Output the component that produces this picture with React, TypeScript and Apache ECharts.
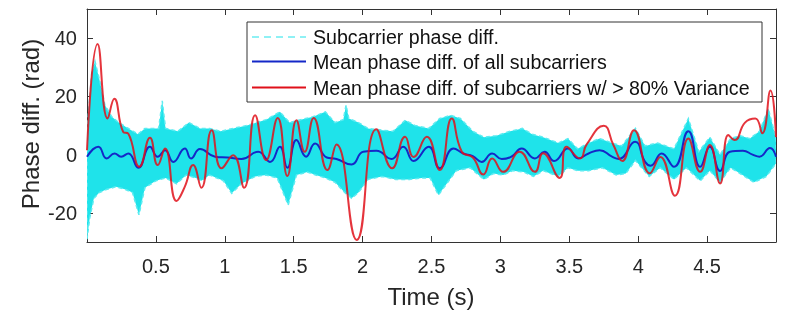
import React, { useEffect, useRef } from 'react';
import * as echarts from 'echarts';

const xTicks = [0.5, 1, 1.5, 2, 2.5, 3, 3.5, 4, 4.5];
const yTicks = [-20, 0, 20, 40];

const legendLabels = [
  'Subcarrier phase diff.',
  'Mean phase diff. of all subcarriers',
  'Mean phase diff. of subcarriers w/ > 80% Variance',
];

// Mean phase diff. of subcarriers w/ > 80% variance (red)
const redSeries: [number, number][] = [
  [0, 1.5], [0.077, 38], [0.15, 12.4], [0.198, 19.2], [0.263, 7.8], [0.3, 7.2], [0.38, -4.2],
  [0.457, 5.8], [0.513, -3.6], [0.566, 2.1], [0.65, -15.9], [0.71, -11], [0.77, -3.6], [0.83, -11.4],
  [0.905, 8.4], [0.977, -4.7], [1.06, -0.2], [1.14, -11.4], [1.22, 13.5], [1.3, -1.9], [1.384, 12.6],
  [1.454, -7.3], [1.52, 11.8], [1.58, 1], [1.645, 12.6], [1.745, -5.3], [1.81, 3.5], [1.957, -29.3],
  [2.1, 8.7], [2.215, -4.7], [2.308, 6.1], [2.37, -0.8], [2.466, 6.1], [2.56, -5.3], [2.647, 12.4],
  [2.72, 1], [2.8, -1], [2.876, -6.8], [2.94, -1.3], [3.02, -5.9], [3.14, 1], [3.25, -5.9], [3.31, 0.5],
  [3.43, -8], [3.48, 2.7], [3.578, -1.3], [3.626, 3.5], [3.75, 9.9], [3.82, 3.3], [3.885, -2.2],
  [3.97, 8.4], [4.085, -6.4], [4.16, -0.8], [4.267, -14.1], [4.364, 5.5], [4.45, -5.9], [4.52, 3.3],
  [4.594, -9.9], [4.654, 6.7], [4.7, 5], [4.775, 11], [4.85, 12.4], [4.9, 7.3], [4.96, 22], [5.0, 6],
];

// Mean phase diff. of all subcarriers (blue)
const blueSeries: [number, number][] = [
  [0, -0.7], [0.082, 2.7], [0.143, -1.3], [0.2, 0.4], [0.247, -0.7], [0.3, 0.4], [0.372, -4.5],
  [0.457, 2.7], [0.513, -0.7], [0.566, 1.5], [0.626, -2.5], [0.71, 2.1], [0.755, -1.3], [0.82, 1.9],
  [0.93, -0.7], [1.02, -1], [1.12, -1.5], [1.243, 1], [1.328, -2.5], [1.4, 2.7], [1.454, -4.5],
  [1.52, 5], [1.59, -0.7], [1.655, 3.8], [1.74, -1], [1.81, -1.5], [1.92, -3.4], [2.005, 1], [2.1, 1.3],
  [2.21, -1.5], [2.295, 2.7], [2.37, -2.2], [2.48, 2.7], [2.56, -4.7], [2.66, 2.1], [2.73, 0.4],
  [2.8, -0.5], [2.864, -2.5], [2.94, 0.4], [3.01, -1.5], [3.08, -0.7], [3.154, 2.1], [3.25, -1.3],
  [3.32, 1], [3.39, -2.2], [3.49, 2.1], [3.565, -1.3], [3.64, 0.4], [3.72, 1.5], [3.81, -0.7],
  [3.86, -1.5], [3.977, 4.4], [4.05, -2.5], [4.09, -3.8], [4.17, 0.4], [4.26, -4.2], [4.364, 8],
  [4.45, -4.2], [4.52, 2.7], [4.594, -5.6], [4.666, 1], [4.76, 1.3], [4.83, 0], [4.88, -0.7],
  [4.956, 2.3], [5.0, -0.7],
];

// Envelope of the individual subcarrier phase diff. traces (cyan)
const cyanUpper: [number, number][] = [
  [0, 8], [0.034, 28], [0.058, 32], [0.094, 25], [0.13, 17], [0.18, 13], [0.23, 11], [0.3, 9],
  [0.37, 7], [0.42, 9], [0.52, 9], [0.546, 18.5], [0.57, 9], [0.66, 8], [0.74, 11], [0.82, 9],
  [0.89, 9], [0.97, 8], [1.06, 9], [1.16, 10], [1.23, 11], [1.3, 12], [1.4, 14.7], [1.47, 11],
  [1.55, 12], [1.64, 13], [1.73, 14.7], [1.8, 11], [1.86, 12], [1.88, 17], [1.9, 12.4], [1.97, 11],
  [2.04, 9], [2.14, 8.4], [2.22, 8], [2.31, 11.8], [2.38, 10], [2.48, 9], [2.56, 12.4], [2.64, 13.5],
  [2.71, 12.4], [2.8, 8], [2.88, 6], [2.97, 6.5], [3.07, 8], [3.16, 9], [3.23, 7], [3.31, 6],
  [3.42, 4], [3.49, 5.5], [3.56, 2], [3.64, 4], [3.72, 5.5], [3.81, 4], [3.88, 3], [3.98, 9],
  [4.05, 3], [4.14, 4], [4.26, 2], [4.364, 12.4], [4.44, 1], [4.52, 6], [4.594, 0], [4.67, 5.5],
  [4.74, 6.5], [4.81, 5.5], [4.88, 8], [4.944, 15.8], [5.0, 5.5],
];

const cyanLower: [number, number][] = [
  [0, -29], [0.02, -21.7], [0.05, -15], [0.09, -13], [0.14, -12], [0.21, -11], [0.28, -12],
  [0.33, -13], [0.377, -20.7], [0.42, -11.4], [0.5, -9], [0.57, -8], [0.65, -10], [0.72, -7],
  [0.79, -8], [0.83, -9], [0.89, -7], [0.99, -9], [1.05, -13.3], [1.12, -10], [1.22, -7.5], [1.3, -7],
  [1.38, -8], [1.46, -17.3], [1.52, -7], [1.6, -6], [1.66, -7], [1.73, -8], [1.8, -9.5], [1.87, -13],
  [1.92, -15], [1.97, -13], [2.04, -8.5], [2.14, -7.5], [2.24, -8.5], [2.34, -8.5], [2.43, -8],
  [2.49, -8], [2.55, -13.9], [2.61, -10], [2.68, -5.5], [2.78, -4.5], [2.88, -8.5], [2.95, -6.5],
  [3.02, -7], [3.09, -5.5], [3.17, -6], [3.24, -7.5], [3.31, -5.5], [3.42, -7.5], [3.49, -4.5],
  [3.56, -5.5], [3.64, -5.5], [3.74, -4.5], [3.84, -7], [3.91, -6.5], [3.98, -2], [4.08, -7.5],
  [4.16, -4.5], [4.26, -8.5], [4.35, -4.5], [4.45, -9], [4.52, -5.5], [4.594, -9.5], [4.67, -4.5],
  [4.74, -6.5], [4.84, -9.5], [4.93, -7.5], [5.0, -3],
];

const CYAN = '#1fe3ea';
const BLUE = '#1428c8';
const RED = '#e0101a';
const AXIS = '#333333';
const TXT = '#262626';
const FONT = "'Liberation Sans', Arial, Helvetica, sans-serif";

export default function App() {
  const ref = useRef<HTMLDivElement>(null);

  useEffect(() => {
    const chart = echarts.init(ref.current as HTMLDivElement, null, { renderer: 'svg' });

    const xAxisBase = (pos: 'bottom' | 'top', labels: boolean) => ({
      type: 'value',
      min: 0,
      max: 5,
      position: pos,
      axisLine: { show: true, onZero: false, lineStyle: { color: AXIS, width: 1 } },
      axisTick: { show: true, inside: true, length: 6, customValues: xTicks, lineStyle: { color: AXIS } },
      axisLabel: {
        show: labels,
        customValues: xTicks,
        fontSize: 20,
        color: TXT,
        fontFamily: FONT,
        margin: 14,
      },
      splitLine: { show: false },
    });
    const yAxisBase = (pos: 'left' | 'right', labels: boolean) => ({
      type: 'value',
      min: -30,
      max: 50,
      position: pos,
      axisLine: { show: true, onZero: false, lineStyle: { color: AXIS, width: 1 } },
      axisTick: { show: true, inside: true, length: 6, customValues: yTicks, lineStyle: { color: AXIS } },
      axisLabel: {
        show: labels,
        customValues: yTicks,
        fontSize: 20,
        color: TXT,
        fontFamily: FONT,
        margin: 10,
      },
      splitLine: { show: false },
    });

    const legendX = 247;
    const legendY = 22;
    const rowsY = [37, 61.5, 87.5];

    chart.setOption({
      animation: false,
      grid: { left: 87, top: 9, right: 33, bottom: 69, containLabel: false },
      xAxis: [xAxisBase('bottom', true), xAxisBase('top', false)],
      yAxis: [yAxisBase('left', true), yAxisBase('right', false)],
      series: [
        {
          type: 'custom',
          xAxisIndex: 0,
          yAxisIndex: 0,
          data: [[0, 0]],
          clip: true,
          z: 1,
          renderItem: (_params: any, api: any) => {
            const pts = cyanUpper
              .map((p) => api.coord(p))
              .concat(cyanLower.slice().reverse().map((p) => api.coord(p)));
            return {
              type: 'polygon',
              shape: { points: pts },
              style: { fill: CYAN, stroke: '#5cecf1', lineWidth: 1.5, lineDash: [4, 3] },
            };
          },
        },
        {
          type: 'line',
          xAxisIndex: 0,
          yAxisIndex: 0,
          data: blueSeries,
          smooth: 0.5,
          showSymbol: false,
          lineStyle: { color: BLUE, width: 2 },
          z: 3,
        },
        {
          type: 'line',
          xAxisIndex: 0,
          yAxisIndex: 0,
          data: redSeries,
          smooth: 0.5,
          showSymbol: false,
          lineStyle: { color: RED, width: 2, opacity: 0.85 },
          z: 4,
        },
      ],
      graphic: [
        {
          type: 'rect',
          z: 100,
          shape: { x: legendX, y: legendY, width: 515, height: 80 },
          style: { fill: '#ffffff', stroke: AXIS, lineWidth: 1 },
        },
        {
          type: 'line',
          z: 101,
          shape: { x1: 252, y1: rowsY[0], x2: 306, y2: rowsY[0] },
          style: { stroke: CYAN, lineWidth: 1, lineDash: [7, 5] },
        },
        {
          type: 'line',
          z: 101,
          shape: { x1: 252, y1: rowsY[1], x2: 306, y2: rowsY[1] },
          style: { stroke: BLUE, lineWidth: 2 },
        },
        {
          type: 'line',
          z: 101,
          shape: { x1: 252, y1: rowsY[2], x2: 306, y2: rowsY[2] },
          style: { stroke: RED, lineWidth: 2 },
        },
        ...legendLabels.map((t, i) => ({
          type: 'text',
          z: 101,
          x: 313,
          y: rowsY[i],
          style: {
            text: t,
            fontSize: 19.6,
            fontFamily: FONT,
            fill: '#111111',
            textAlign: 'left',
            textVerticalAlign: 'middle',
          },
        })),
        {
          type: 'text',
          z: 101,
          x: 431,
          y: 296,
          style: {
            text: 'Time (s)',
            fontSize: 24,
            fontFamily: FONT,
            fill: TXT,
            textAlign: 'center',
            textVerticalAlign: 'middle',
          },
        },
        {
          type: 'text',
          z: 101,
          x: 30,
          y: 124,
          rotation: Math.PI / 2,
          style: {
            text: 'Phase diff. (rad)',
            fontSize: 24,
            fontFamily: FONT,
            fill: TXT,
            textAlign: 'center',
            textVerticalAlign: 'middle',
          },
        },
      ],
    });

    return () => chart.dispose();
  }, []);

  return <div ref={ref} style={{ position: 'fixed', left: 0, top: 0, width: 809, height: 311 }} />;
}
